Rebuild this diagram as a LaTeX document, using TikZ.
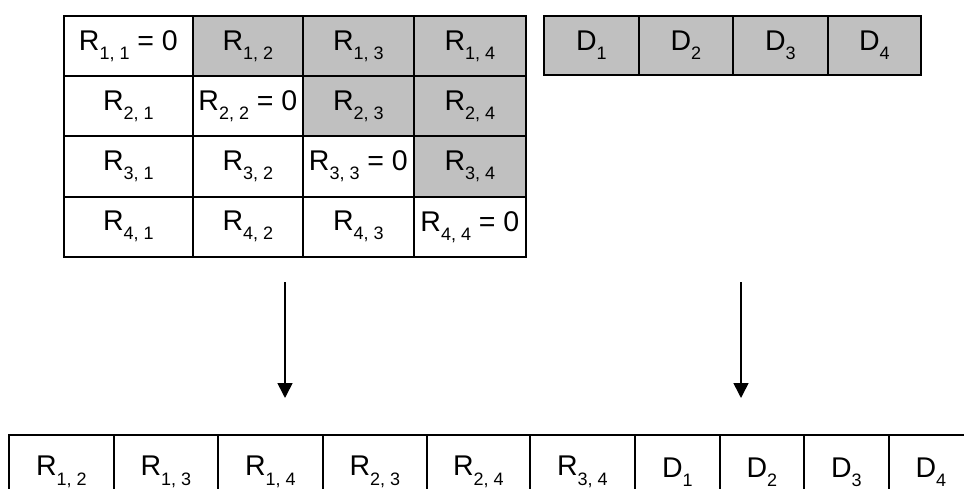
\documentclass[tikz,border=0pt]{standalone}
\usepackage{fontspec}
\setmainfont{Liberation Sans}
\usetikzlibrary{arrows.meta}
\definecolor{cellgray}{RGB}{192,192,192}
\newcommand{\sbs}[1]{\raisebox{-0.32em}{\fontsize{18}{18}\selectfont #1}}
\newcommand{\Rij}[2]{R\sbs{#1, #2}}
\newcommand{\Dk}[1]{D\sbs{#1}}
\tikzset{
  cell/.style={draw=black, line width=1.8pt, rectangle, inner sep=0pt, anchor=north west,
    font=\fontsize{28.5}{30}\selectfont, minimum height=60.25pt},
  grey/.style={fill=cellgray},
  flow/.style={draw=black, line width=1.6pt, -{Triangle[width=15pt,length=15pt]}}
}
\begin{document}
\begin{tikzpicture}[x=1pt,y=-1pt]
\useasboundingbox (0,0) rectangle (964,489);
\clip (0,0) rectangle (964,489);
\fill[white] (0,0) rectangle (964,489);
% matrix R
\node[cell, minimum width=129pt] (r11) at (63,15) {\Rij{1}{1} = 0};
\node[cell, grey, minimum width=110pt] (r12) at (192,15) {\Rij{1}{2}};
\node[cell, grey, minimum width=111pt] (r13) at (302,15) {\Rij{1}{3}};
\node[cell, grey, minimum width=112pt] (r14) at (413,15) {\Rij{1}{4}};
\node[cell, minimum width=129pt] (r21) at (63,75.25) {\Rij{2}{1}};
\node[cell, minimum width=110pt] (r22) at (192,75.25) {\Rij{2}{2} = 0};
\node[cell, grey, minimum width=111pt] (r23) at (302,75.25) {\Rij{2}{3}};
\node[cell, grey, minimum width=112pt] (r24) at (413,75.25) {\Rij{2}{4}};
\node[cell, minimum width=129pt] (r31) at (63,135.5) {\Rij{3}{1}};
\node[cell, minimum width=110pt] (r32) at (192,135.5) {\Rij{3}{2}};
\node[cell, minimum width=111pt] (r33) at (302,135.5) {\Rij{3}{3} = 0};
\node[cell, grey, minimum width=112pt] (r34) at (413,135.5) {\Rij{3}{4}};
\node[cell, minimum width=129pt] (r41) at (63,195.75) {\Rij{4}{1}};
\node[cell, minimum width=110pt] (r42) at (192,195.75) {\Rij{4}{2}};
\node[cell, minimum width=111pt] (r43) at (302,195.75) {\Rij{4}{3}};
\node[cell, minimum width=112pt] (r44) at (413,195.75) {\Rij{4}{4} = 0};
% vector D
\node[cell, grey, minimum width=95pt, minimum height=59pt] (d1) at (543,15) {\Dk{1}};
\node[cell, grey, minimum width=94pt, minimum height=59pt] (d2) at (638,15) {\Dk{2}};
\node[cell, grey, minimum width=95pt, minimum height=59pt] (d3) at (732,15) {\Dk{3}};
\node[cell, grey, minimum width=93pt, minimum height=59pt] (d4) at (827,15) {\Dk{4}};
% packed row (extends below the picture's lower edge)
\node[cell, minimum width=105pt, minimum height=74pt] (b1) at (8,434) {\Rij{1}{2}};
\node[cell, minimum width=104pt, minimum height=74pt] (b2) at (113,434) {\Rij{1}{3}};
\node[cell, minimum width=105pt, minimum height=74pt] (b3) at (217,434) {\Rij{1}{4}};
\node[cell, minimum width=104pt, minimum height=74pt] (b4) at (322,434) {\Rij{2}{3}};
\node[cell, minimum width=103pt, minimum height=74pt] (b5) at (426,434) {\Rij{2}{4}};
\node[cell, minimum width=105pt, minimum height=74pt] (b6) at (529,434) {\Rij{3}{4}};
\node[cell, minimum width=85pt, minimum height=74pt] (b7) at (634,434) {\Dk{1}};
\node[cell, minimum width=84pt, minimum height=74pt] (b8) at (719,434) {\Dk{2}};
\node[cell, minimum width=85pt, minimum height=74pt] (b9) at (803,434) {\Dk{3}};
\node[cell, minimum width=84pt, minimum height=74pt] (b10) at (888,434) {\Dk{4}};
% arrows
\coordinate (a1s) at (285,282);
\coordinate (a1e) at (285,398);
\coordinate (a2s) at (741,282);
\coordinate (a2e) at (741,398);
\draw[flow] (a1s) -- (a1e);
\draw[flow] (a2s) -- (a2e);
\end{tikzpicture}
\end{document}
